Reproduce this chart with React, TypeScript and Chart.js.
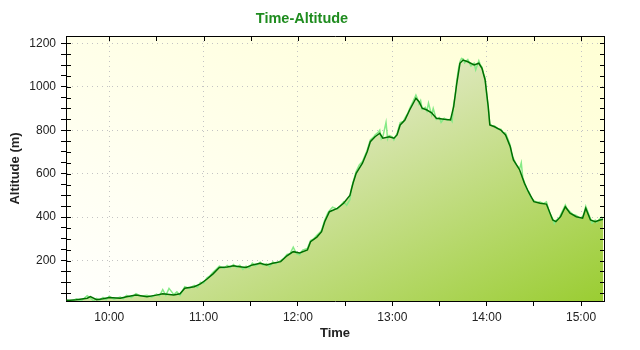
import React, { useEffect, useRef } from 'react';
import { Chart, registerables } from 'chart.js';

Chart.register(...registerables);

// ---- text ----
const chartTitle = 'Time-Altitude';
const xAxisTitle = 'Time';
const yAxisTitle = 'Altitude (m)';

// ---- axis ranges (x in minutes since midnight) ----
const xMin = 572.5;
const xMax = 914.6;
const xStepMinutes = 30;
const yMin = 14;
const yMax = 1233.5;
const yStep = 50;

// ---- smoothed track (dark line) ----
const trackMinutes = [
  573, 579, 586, 588, 592, 596, 600, 607, 611, 617, 624, 630, 634, 641, 645, 648,
  654, 658, 662, 666, 670, 675, 679, 683, 687, 691, 696, 700, 704, 709, 713, 717,
  721, 726, 728, 732, 735, 737, 740, 745, 749, 753, 755, 757, 761, 764, 766, 769,
  772, 774, 778, 781, 783, 785, 788, 791, 795, 797, 799, 802, 805, 808, 813, 817,
  819, 821, 823, 825, 828, 832, 835, 837, 839, 841, 842, 845, 849, 852, 855, 857,
  861, 864, 867, 870, 874, 878, 882, 884, 887, 890, 893, 897, 901, 903, 906, 909,
  912, 914,
];
const trackAltitude = [
  16, 20, 27, 34, 20, 24, 30, 27, 34, 42, 34, 41, 47, 42, 47, 73,
  80, 93, 114, 139, 168, 170, 176, 172, 168, 180, 188, 180, 188, 195, 222, 241,
  235, 249, 287, 308, 333, 379, 425, 440, 464, 500, 556, 602, 648, 701, 747, 770,
  786, 763, 770, 763, 778, 824, 847, 893, 947, 931, 901, 893, 880, 855, 850, 847,
  908, 1016, 1108, 1123, 1115, 1100, 1108, 1085, 1031, 908, 824, 816, 801, 778, 724, 663,
  617, 556, 510, 471, 464, 460, 387, 379, 402, 448, 418, 402, 395, 441, 387, 379,
  387, 390,
];

// ---- raw GPS samples (light line) ----
const rawMinutes = [
  573, 576, 579, 582, 586, 588, 590, 592, 594, 596, 598, 600, 603, 607, 609, 611,
  614, 617, 620, 624, 627, 630, 632, 634, 636, 638, 641, 643, 645, 648, 651, 654,
  656, 658, 660, 662, 664, 666, 668, 670, 673, 675, 677, 679, 681, 683, 685, 687,
  689, 691, 693, 696, 698, 700, 702, 704, 706, 709, 711, 713, 715, 717, 719, 721,
  723, 726, 728, 730, 732, 734, 735, 737, 739, 740, 742, 745, 747, 749, 751, 753,
  754, 755, 757, 759, 761, 763, 764, 766, 768, 769, 771, 772, 773, 774, 776, 777,
  778, 780, 781, 783, 784, 785, 787, 788, 790, 791, 793, 795, 796, 797, 798, 799,
  801, 802, 803, 805, 806, 808, 810, 811, 813, 815, 817, 818, 819, 820, 821, 822,
  823, 824, 825, 826, 828, 830, 832, 833, 835, 836, 837, 838, 839, 840, 841, 842,
  843, 845, 847, 849, 850, 852, 854, 855, 856, 857, 859, 861, 862, 863, 864, 866,
  867, 868, 870, 872, 874, 876, 878, 880, 882, 883, 884, 886, 887, 889, 890, 891,
  893, 895, 897, 899, 901, 902, 903, 904, 906, 907, 909, 910, 912, 913, 914,
];
const rawAltitude = [
  20, 12, 24, 14, 38, 28, 14, 26, 18, 30, 20, 36, 22, 32, 24, 40,
  30, 48, 36, 40, 32, 46, 38, 66, 40, 72, 44, 56, 40, 80, 72, 86,
  76, 100, 96, 120, 130, 146, 160, 174, 164, 178, 168, 182, 168, 178, 160, 174,
  166, 188, 176, 192, 178, 186, 172, 194, 186, 200, 210, 228, 232, 262, 232, 226,
  248, 256, 292, 300, 316, 330, 340, 386, 420, 430, 446, 436, 452, 470, 455, 480,
  530, 560, 610, 640, 656, 690, 708, 755, 768, 778, 790, 800, 760, 770, 836, 760,
  776, 770, 756, 784, 810, 835, 840, 856, 880, 900, 930, 962, 945, 920, 936, 896,
  905, 888, 925, 870, 900, 850, 858, 836, 855, 846, 852, 840, 920, 960, 1030, 1080,
  1115, 1130, 1128, 1110, 1125, 1095, 1108, 1078, 1120, 1100, 1090, 1060, 1040, 960, 900, 830,
  822, 820, 806, 805, 790, 786, 750, 730, 680, 670, 640, 624, 650, 580, 560, 520,
  516, 490, 476, 468, 470, 462, 470, 420, 392, 370, 384, 395, 410, 440, 456, 440,
  425, 412, 408, 396, 400, 420, 450, 430, 392, 372, 386, 376, 392, 400, 396,
];

const fmtTime = (v: number) => {
  const h = Math.floor(v / 60);
  const m = Math.round(v - h * 60);
  return `${h}:${String(m).padStart(2, '0')}`;
};

const framePlugin = {
  id: 'frame',
  beforeDraw(chart: any) {
    const { ctx, chartArea: a } = chart;
    if (!a) return;
    const W = a.right - a.left;
    const H = a.bottom - a.top;
    const s = (2 * W * H) / (W * W + H * H);
    const g = ctx.createLinearGradient(a.left, a.bottom, a.left + s * H, a.bottom - s * W);
    g.addColorStop(0, '#FFFFFD');
    g.addColorStop(1, '#FFFFD4');
    ctx.save();
    ctx.fillStyle = g;
    ctx.fillRect(a.left, a.top, W, H);
    ctx.restore();
  },
  afterDraw(chart: any) {
    const { ctx, chartArea: a, scales } = chart;
    if (!a) return;
    ctx.save();
    ctx.strokeStyle = '#000';
    ctx.lineWidth = 1;
    ctx.beginPath();
    // top and right frame lines
    ctx.moveTo(a.left, a.top + 0.5);
    ctx.lineTo(a.right + 1, a.top + 0.5);
    ctx.moveTo(a.right + 0.5, a.top);
    ctx.lineTo(a.right + 0.5, a.bottom + 1);
    // inner ticks of y axis (left and right)
    const ys = scales.y;
    ys.ticks.forEach((t: any) => {
      const py = Math.round(ys.getPixelForValue(t.value)) + 0.5;
      ctx.moveTo(a.left, py);
      ctx.lineTo(a.left + 5, py);
      ctx.moveTo(a.right + 1, py);
      ctx.lineTo(a.right - 4, py);
    });
    // inner ticks at top for x axis
    const xs = scales.x;
    xs.ticks.forEach((t: any) => {
      const px = Math.round(xs.getPixelForValue(t.value)) + 0.5;
      ctx.moveTo(px, a.top);
      ctx.lineTo(px, a.top + 5);
    });
    ctx.stroke();
    ctx.restore();
  },
};

export default function App() {
  const ref = useRef<HTMLCanvasElement | null>(null);

  useEffect(() => {
    if (!ref.current) return;
    const fillColor = (c: any) => {
      const a = c.chart.chartArea;
      if (!a) return 'rgba(154,205,50,0.6)';
      const W = a.right - a.left;
      const H = a.bottom - a.top;
      const s = (2 * W * H) / (W * W + H * H);
      const g = c.chart.ctx.createLinearGradient(a.left, a.top, a.left + s * H, a.top + s * W);
      g.addColorStop(0, '#F6F6E2');
      g.addColorStop(0.42, '#DCE7B8');
      g.addColorStop(1, '#9ACD32');
      return g;
    };

    const chart = new Chart(ref.current, {
      type: 'line',
      data: {
        datasets: [
          {
            label: 'Altitude',
            data: trackMinutes.map((m, i) => ({ x: m, y: trackAltitude[i] })),
            borderColor: '#006E00',
            borderWidth: 1.5,
            pointRadius: 0,
            tension: 0,
            fill: 'start',
            backgroundColor: fillColor,
          },
          {
            label: 'Raw',
            data: rawMinutes.map((m, i) => ({ x: m, y: rawAltitude[i] })),
            borderColor: '#86EA86',
            borderWidth: 1.5,
            pointRadius: 0,
            tension: 0,
            fill: false,
          },
        ],
      },
      options: {
        responsive: false,
        animation: false,
        devicePixelRatio: 1,
        layout: { padding: { left: 0, right: 36, top: 0, bottom: 0 } },
        plugins: {
          legend: { display: false },
          tooltip: { enabled: false },
          filler: { drawTime: 'beforeDatasetsDraw' },
          title: {
            display: true,
            text: chartTitle,
            color: '#1F8C1F',
            font: { family: 'Liberation Sans', size: 14.5, weight: 'bold' },
            padding: { top: 10, bottom: 8.6 },
          },
        },
        scales: {
          x: {
            type: 'linear',
            min: xMin,
            max: xMax,
            afterFit: (s: any) => {
              s.height = 49;
            },
            ticks: {
              stepSize: xStepMinutes,
              includeBounds: false,
              autoSkip: false,
              maxRotation: 0,
              padding: 4,
              color: '#222',
              font: { family: 'Liberation Sans', size: 12 },
              callback: (v: any) => (Number(v) % 60 === 0 ? fmtTime(Number(v)) : ''),
            },
            grid: {
              color: (c: any) => (c.tick && c.tick.value % 60 === 0 ? '#C4C4C4' : 'transparent'),
              lineWidth: 1,
              tickColor: '#000',
              tickLength: 5,
              drawTicks: true,
            },
            border: { display: true, color: '#000', width: 1, dash: [1, 4] },
            title: {
              display: true,
              text: xAxisTitle,
              color: '#222',
              font: { family: 'Liberation Sans', size: 13, weight: 'bold' },
              padding: { top: 0, bottom: 9 },
            },
          },
          y: {
            type: 'linear',
            min: yMin,
            max: yMax,
            afterFit: (s: any) => {
              s.width = 66;
            },
            ticks: {
              stepSize: yStep,
              includeBounds: false,
              autoSkip: false,
              padding: 5,
              color: '#222',
              font: { family: 'Liberation Sans', size: 12 },
              callback: (v: any) => (Number(v) % 200 === 0 ? String(v) : ''),
            },
            grid: {
              color: (c: any) => (c.tick && c.tick.value % 200 === 0 ? '#C4C4C4' : 'transparent'),
              lineWidth: 1,
              tickColor: '#000',
              tickLength: 5,
              drawTicks: true,
            },
            border: { display: true, color: '#000', width: 1, dash: [1, 4] },
            title: {
              display: true,
              text: yAxisTitle,
              color: '#222',
              font: { family: 'Liberation Sans', size: 13, weight: 'bold' },
              padding: { top: 8, bottom: 0 },
            },
          },
        },
      },
      plugins: [framePlugin],
    });
    return () => chart.destroy();
  }, []);

  return (
    <div style={{ position: 'fixed', left: 0, top: 0, width: 640, height: 350, background: '#fff' }}>
      <canvas ref={ref} width={640} height={350} style={{ display: 'block' }} />
    </div>
  );
}
